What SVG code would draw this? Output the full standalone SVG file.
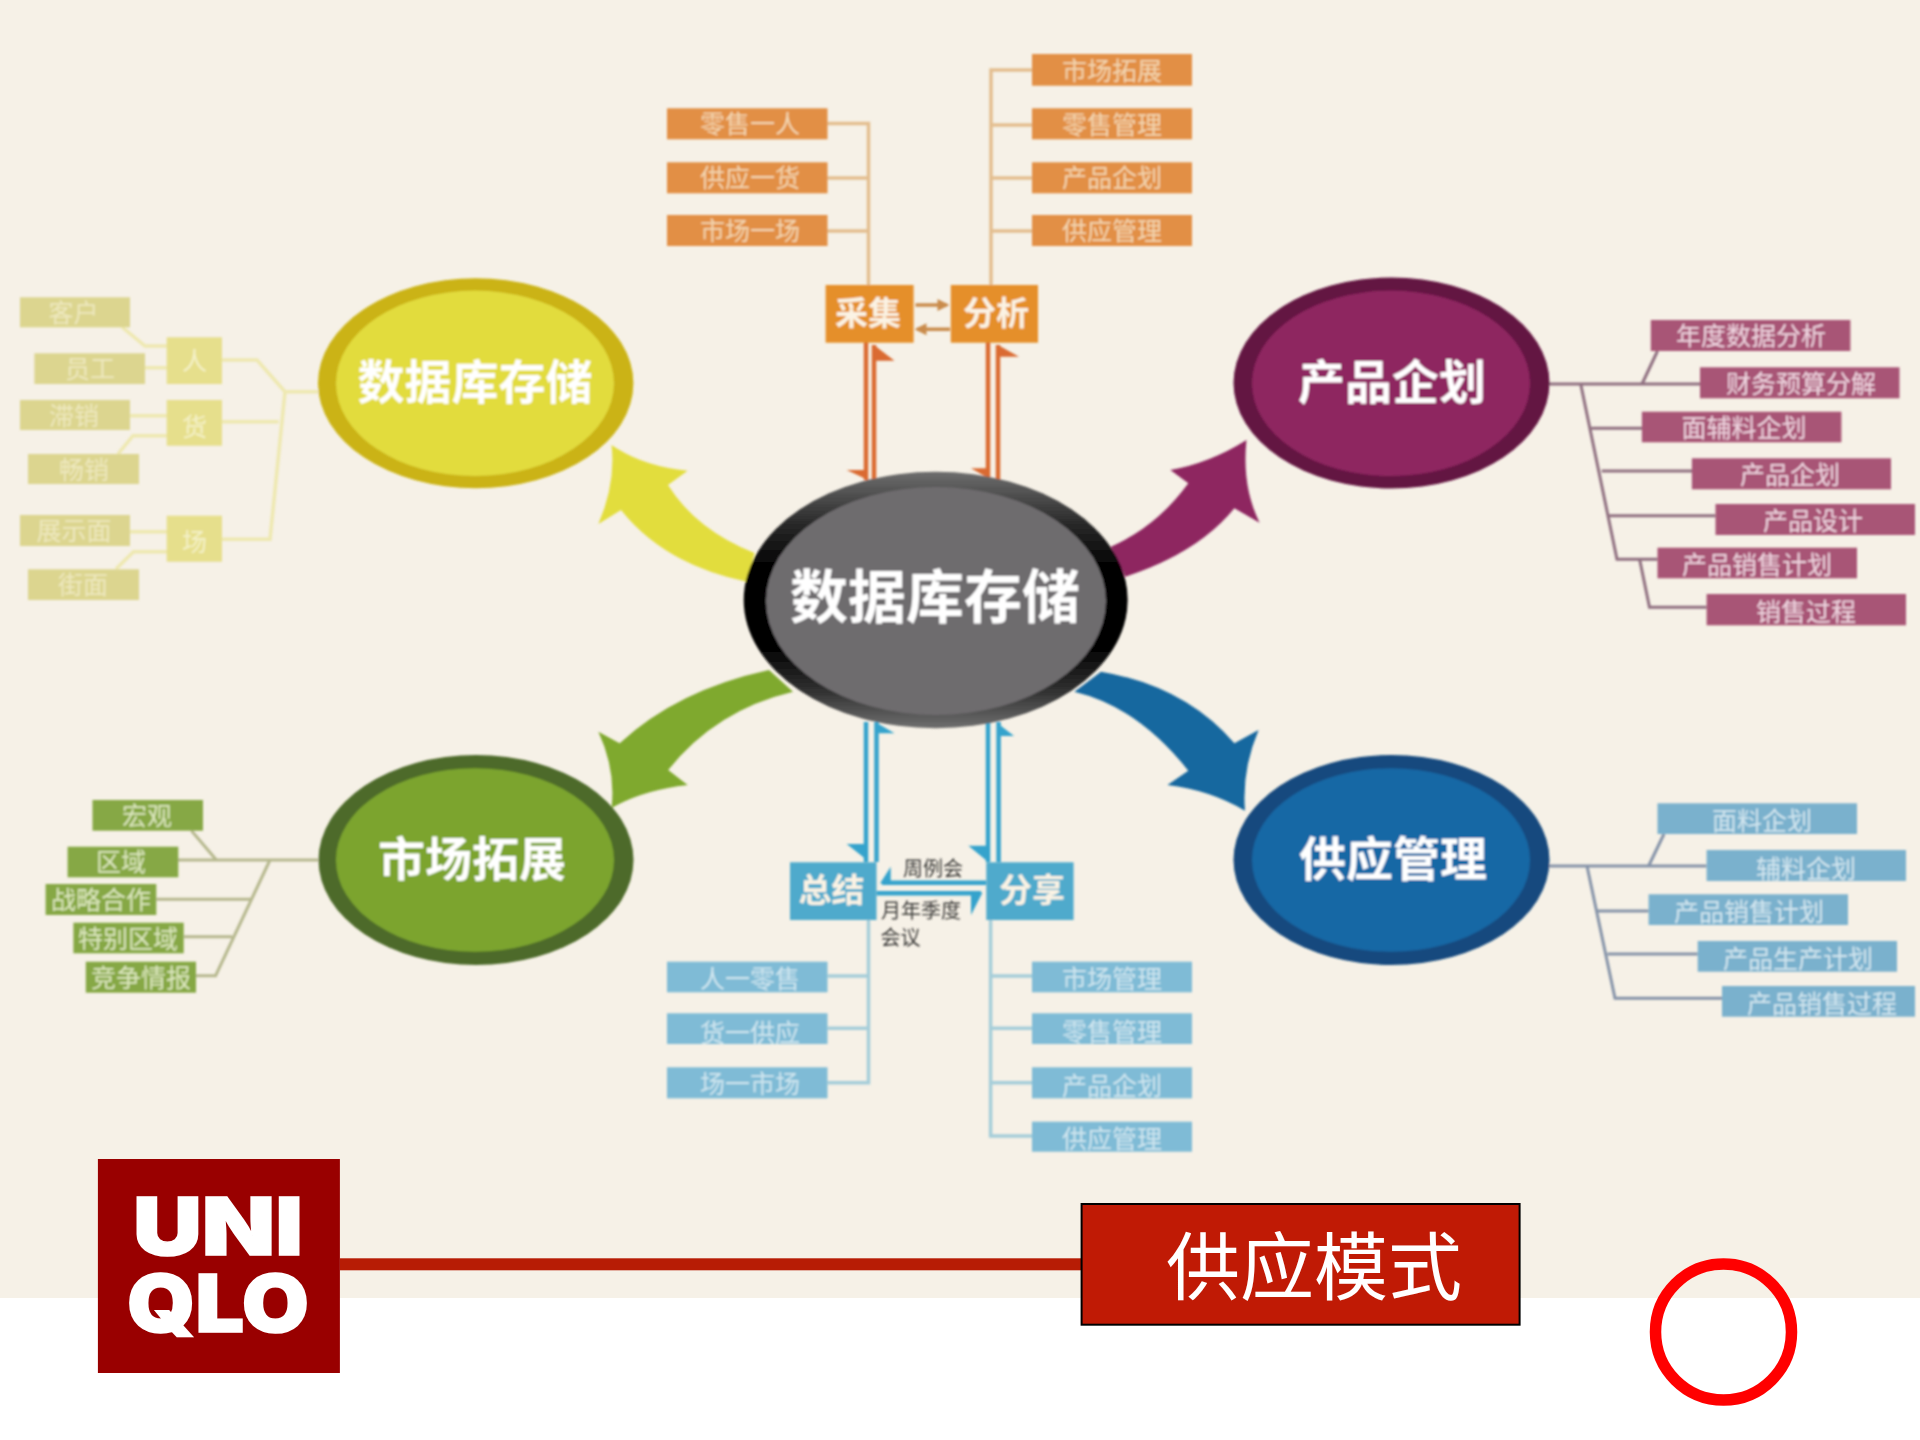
<svg xmlns="http://www.w3.org/2000/svg" width="1920" height="1440" viewBox="0 0 1920 1440">
<style>
text{font-family:"Noto Sans CJK SC","Noto Sans CJK JP",sans-serif;text-anchor:middle;dominant-baseline:central}
.title{font-size:47px;font-weight:700;fill:#fff;transform:translateY(-2.5px)}
.small{font-size:25px;transform:translateY(-1.5px)}
.hub{font-size:33px;font-weight:700;fill:#fbf3e4;transform:translateY(-3px)}
.note{font-size:20px;fill:#403f3d;transform:translateY(-2px)}
.o rect{fill:#E28F45}.o text{fill:#F3D6B0}
.y rect{fill:#DCD58F}.y text{fill:#EDE8BE}
.yh rect{fill:#E6DF8C}.yh text{fill:#F4F1C8}
.p rect{fill:#A85476}.p text{fill:#EFD5E0}
.g rect{fill:#86A845}.g text{fill:#DCE7BE}
.b rect{fill:#7FBBD6}.b text{fill:#CFE6EF}
.s rect{fill:#7AB1CD}.s text{fill:#D2E6EF}
.lo,.ly,.lp,.lg,.lb,.ls,.do,.db,.sm{fill:none}
.lo{stroke:#E3BE8F;stroke-width:3.5}
.ly{stroke:#EEE8B0;stroke-width:3.5}
.lp{stroke:#8F6F80;stroke-width:3}
.lg{stroke:#B6B88E;stroke-width:3}
.lb{stroke:#A5CDD9;stroke-width:3.5}
.ls{stroke:#8593A8;stroke-width:3}
.do{stroke:#DA6A30;stroke-width:4.5}
.db{stroke:#35A3CC;stroke-width:4.5}
.sm{stroke:#C98B4C;stroke-width:3.5}
.fo{fill:#DA6A30}.fb{fill:#35A3CC}
.logo{font-size:80px;font-weight:900;fill:#fff;stroke:#fff;stroke-width:1.5;font-family:Inter,"Liberation Sans",sans-serif;dominant-baseline:alphabetic}
</style>
<defs>
<filter id="soft" filterUnits="userSpaceOnUse" x="0" y="0" width="1920" height="1298"><feGaussianBlur stdDeviation="0.8"/></filter>
<linearGradient id="rim" x1="0" y1="0" x2="0" y2="1">
<stop offset="0" stop-color="#6e6e6e"/><stop offset="0.2" stop-color="#2a2a2a"/><stop offset="0.38" stop-color="#000"/><stop offset="0.68" stop-color="#000"/><stop offset="0.86" stop-color="#333"/><stop offset="1" stop-color="#707070"/>
</linearGradient>
<marker id="ah" viewBox="0 0 10 10" refX="8" refY="5" markerWidth="3.4" markerHeight="4.2" orient="auto"><path d="M0 0L10 5L0 10z" fill="#C98B4C"/></marker>
</defs>
<rect width="1920" height="1298" fill="#F6F1E7"/>
<g filter="url(#soft)">
<g id="connectors">
<path class="lo" d="M827 123.5H868.5V285M827 178H868.5M827 231H868.5"/>
<path class="lo" d="M1032 70H991V285M1032 125H991M1032 178H991M1032 231H991"/>
<path class="ly" d="M122 327L145 346H167M145 367.7H167M130 415.7H167M118 454L133 435.7H167M130 531.7H167M116 569L133.5 551.7H167"/>
<path class="ly" d="M222 360H257L285 391.7H318M222 421.7H278.6M285 391.7L270 539.3H222"/>
<path class="lp" d="M1549 384H1700M1657.5 351L1642 384M1580.7 384L1617 559.3H1657.5M1591.4 428.3H1642M1601.7 471H1692M1609.3 515.7H1715.5M1639.6 559.3L1649.5 607.3H1706.6"/>
<path class="lg" d="M178 860H318M191.5 830.7L216.4 860M269.5 861L215.6 975.7H196M156.3 899.3H250.8M183.7 936.7H232.2"/>
<path class="ls" d="M1549 866H1706.6M1664 834L1648.6 866M1587 866L1615 998.3H1722M1597 911H1648.6M1607.5 954H1697.7"/>
<path class="lb" d="M868.5 920V1082.7H827.5M868.5 976H827.5M868.5 1028.3H827.5"/>
<path class="lb" d="M990.6 920V1136H1032M990.6 976H1032M990.6 1028.3H1032M990.6 1082.7H1032"/>
<path class="do" d="M866 342V480M874 345V480M988 342V480M998 345V480"/>
<polygon class="fo" points="846.7,470 866,470 866,479"/>
<polygon class="fo" points="874,345 894.5,360.7 874,360.7"/>
<polygon class="fo" points="971,468.3 988,468.3 988,478"/>
<polygon class="fo" points="998,345 1019,356.7 998,356.7"/>
<path class="sm" d="M915.5 305H947" marker-end="url(#ah)"/>
<path class="sm" d="M950 329.3H917" marker-end="url(#ah)"/>
<path class="db" d="M866 722V862M876.5 722V862M988 722V862M998.6 722V862"/>
<polygon class="fb" points="876.5,722.7 894.5,733.3 876.5,733.3"/>
<polygon class="fb" points="846.7,844 866,844 866,859.3"/>
<polygon class="fb" points="998.6,724 1014,736 998.6,736"/>
<polygon class="fb" points="968.4,845.7 988,845.7 988,861.7"/>
<path class="db" d="M986 882.7H882M876.5 893.3H981"/>
<polygon class="fb" points="880,883.5 890.7,866.7 890.7,883.5"/>
<polygon class="fb" points="982.5,892.5 971,915 971,892.5"/>
<path id="arrow-yellow" fill="#E2DD3C" d="M611.5 445Q643 466.7 687.6 470.7L668 485Q696.3 530 754.5 553L747 581.7Q665 565 621 510L598.4 524Q616 483 611.5 445Z"/>
<path id="arrow-purple" fill="#8E2660" d="M1246.5 440Q1210 463 1170.4 470L1188.3 483.3Q1156.8 526.7 1110.8 546.7L1125.3 576.7Q1198 553 1234.4 508.3L1259.6 522.7Q1241.7 486.7 1246.5 440Z"/>
<path id="arrow-green" fill="#7FA92D" d="M611.5 808Q643 790 687.6 785L668.2 770Q715.7 710 793 691.7L769 670Q677 690 619.7 743.3L598.4 731.7Q616 770 611.5 808Z"/>
<path id="arrow-blue" fill="#17679F" d="M1245 810.7Q1210 790 1167.5 785L1188.3 770.7Q1137.5 706.7 1074.4 691.7L1101 671.7Q1185 686 1234.4 743.3L1258.6 730Q1241.7 770 1245 810.7Z"/>
</g>
<g id="node-center"><ellipse cx="935.7" cy="600" rx="192" ry="128.3" fill="url(#rim)"/><ellipse cx="936" cy="601" rx="170" ry="114" fill="#6E6C6E"/><text x="935" y="593" font-size="58" font-weight="700" fill="#fff">数据库存储</text></g>
<g id="node-storage"><ellipse cx="475.7" cy="383.3" rx="157.7" ry="105" fill="#CBB312"/><ellipse cx="475" cy="383.3" rx="139" ry="92.7" fill="#E2DC3C"/><text class="title" x="475" y="381">数据库存储</text></g>
<g id="node-product"><ellipse cx="1391.5" cy="383" rx="158" ry="105.5" fill="#641542"/><ellipse cx="1391" cy="383.3" rx="139" ry="92.7" fill="#8E2660"/><text class="title" x="1392" y="381">产品企划</text></g>
<g id="node-market"><ellipse cx="476" cy="860" rx="157.5" ry="105" fill="#4D6A2B"/><ellipse cx="475" cy="860" rx="139" ry="91.7" fill="#7BA42E"/><text class="title" x="472" y="858">市场拓展</text></g>
<g id="node-supply"><ellipse cx="1391.5" cy="860" rx="158" ry="105" fill="#14497E"/><ellipse cx="1391" cy="860" rx="139" ry="91.7" fill="#1868A5"/><text class="title" x="1393" y="858">供应管理</text></g>

<g id="hub-collect"><rect x="825.6" y="285" width="88" height="57.7" fill="#E58F2B"/><text class="hub" x="868" y="314">采集</text></g>
<g id="hub-analyse"><rect x="950.8" y="285" width="87.2" height="57.7" fill="#E58F2B"/><text class="hub" x="996" y="314">分析</text></g>
<g id="hub-summary"><rect x="790" y="862.3" width="86.5" height="57.7" fill="#4FAACC"/><text class="hub" x="831.5" y="891">总结</text></g>
<g id="hub-share"><rect x="986.3" y="862.3" width="87.3" height="57.7" fill="#4FAACC"/><text class="hub" x="1032" y="891">分享</text></g>
<g id="label-weekly"><text class="note" x="933" y="869">周例会</text></g>
<g id="label-monthly"><text class="note" x="921" y="911">月年季度</text><text class="note" x="900.5" y="938">会议</text></g>

<g class="o" id="n-o1"><rect x="667" y="108.3" width="160.5" height="31"/><text class="small" x="750" y="123.5">零售一人</text></g>
<g class="o" id="n-o2"><rect x="667" y="162.3" width="160.5" height="31"/><text class="small" x="750" y="177.5">供应一货</text></g>
<g class="o" id="n-o3"><rect x="667" y="215" width="160.5" height="31"/><text class="small" x="750" y="230">市场一场</text></g>
<g class="o" id="n-o4"><rect x="1032" y="54" width="160" height="31.7"/><text class="small" x="1112" y="70">市场拓展</text></g>
<g class="o" id="n-o5"><rect x="1032" y="108.3" width="160" height="31"/><text class="small" x="1112" y="124">零售管理</text></g>
<g class="o" id="n-o6"><rect x="1032" y="162.3" width="160" height="31"/><text class="small" x="1112" y="177.5">产品企划</text></g>
<g class="o" id="n-o7"><rect x="1032" y="215" width="160" height="31"/><text class="small" x="1112" y="230">供应管理</text></g>

<g class="y" id="n-y1"><rect x="20" y="297.3" width="110" height="30"/><text class="small" x="73.6" y="312">客户</text></g>
<g class="y" id="n-y2"><rect x="34.4" y="353.3" width="110.6" height="30.7"/><text class="small" x="90" y="368">员工</text></g>
<g class="y" id="n-y3"><rect x="20" y="400" width="110" height="30"/><text class="small" x="74" y="415">滞销</text></g>
<g class="y" id="n-y4"><rect x="28" y="454" width="111" height="30"/><text class="small" x="84" y="469">畅销</text></g>
<g class="y" id="n-y5"><rect x="20" y="515" width="110" height="31"/><text class="small" x="74" y="530">展示面</text></g>
<g class="y" id="n-y6"><rect x="28" y="569.3" width="111" height="30.7"/><text class="small" x="83" y="584">街面</text></g>
<g class="yh" id="n-yh1"><rect x="166.7" y="337.3" width="55.3" height="46.7"/><text class="small" x="194.5" y="360">人</text></g>
<g class="yh" id="n-yh2"><rect x="166.7" y="400" width="55.3" height="45.7"/><text class="small" x="194.5" y="426">货</text></g>
<g class="yh" id="n-yh3"><rect x="166.7" y="515.7" width="55.3" height="46"/><text class="small" x="194.5" y="541">场</text></g>

<g class="p" id="n-p1"><rect x="1650.8" y="320" width="199.6" height="31"/><text class="small" x="1751" y="335">年度数据分析</text></g>
<g class="p" id="n-p2"><rect x="1700" y="367.3" width="199.5" height="31"/><text class="small" x="1801" y="383">财务预算分解</text></g>
<g class="p" id="n-p3"><rect x="1641.9" y="411.7" width="199.5" height="30.6"/><text class="small" x="1744" y="427">面辅料企划</text></g>
<g class="p" id="n-p4"><rect x="1691.9" y="458.3" width="199.1" height="31"/><text class="small" x="1790" y="474">产品企划</text></g>
<g class="p" id="n-p5"><rect x="1715.5" y="504" width="199.5" height="31"/><text class="small" x="1813" y="520">产品设计</text></g>
<g class="p" id="n-p6"><rect x="1657.5" y="547.7" width="199.5" height="30.6"/><text class="small" x="1757" y="564">产品销售计划</text></g>
<g class="p" id="n-p7"><rect x="1706.6" y="594" width="199.4" height="31.3"/><text class="small" x="1806" y="611">销售过程</text></g>

<g class="g" id="n-g1"><rect x="92.5" y="800" width="110.5" height="30.7"/><text class="small" x="147" y="815">宏观</text></g>
<g class="g" id="n-g2"><rect x="67.6" y="846.7" width="110.7" height="30.6"/><text class="small" x="121" y="861">区域</text></g>
<g class="g" id="n-g3"><rect x="45.6" y="884" width="110.7" height="31"/><text class="small" x="101" y="899">战略合作</text></g>
<g class="g" id="n-g4"><rect x="73.4" y="922.7" width="110.3" height="30.6"/><text class="small" x="128" y="938">特别区域</text></g>
<g class="g" id="n-g5"><rect x="85.8" y="961.7" width="110.2" height="31"/><text class="small" x="141" y="977">竞争情报</text></g>

<g class="b" id="n-b1"><rect x="667" y="961.7" width="160.5" height="30.6"/><text class="small" x="750" y="978">人一零售</text></g>
<g class="b" id="n-b2"><rect x="667" y="1013.3" width="160.5" height="30.7"/><text class="small" x="750" y="1032">货一供应</text></g>
<g class="b" id="n-b3"><rect x="667" y="1067.3" width="160.5" height="31"/><text class="small" x="750" y="1083">场一市场</text></g>
<g class="b" id="n-b4"><rect x="1032" y="961.7" width="160" height="30.6"/><text class="small" x="1112" y="978">市场管理</text></g>
<g class="b" id="n-b5"><rect x="1032" y="1013.3" width="160" height="30.7"/><text class="small" x="1112" y="1031">零售管理</text></g>
<g class="b" id="n-b6"><rect x="1032" y="1067.3" width="160" height="31"/><text class="small" x="1112" y="1085">产品企划</text></g>
<g class="b" id="n-b7"><rect x="1032" y="1121.7" width="160" height="30"/><text class="small" x="1112" y="1138">供应管理</text></g>

<g class="s" id="n-s1"><rect x="1657.5" y="803.3" width="199.5" height="30.7"/><text class="small" x="1762" y="820">面料企划</text></g>
<g class="s" id="n-s2"><rect x="1706.6" y="850" width="199.4" height="31"/><text class="small" x="1806" y="868">辅料企划</text></g>
<g class="s" id="n-s3"><rect x="1648.6" y="894.3" width="199.4" height="30.7"/><text class="small" x="1749" y="911">产品销售计划</text></g>
<g class="s" id="n-s4"><rect x="1697.7" y="941" width="199.3" height="30.7"/><text class="small" x="1798" y="958">产品生产计划</text></g>
<g class="s" id="n-s5"><rect x="1722" y="986" width="193" height="30.7"/><text class="small" x="1822" y="1003">产品销售过程</text></g>
</g>

<g id="banner-line"><rect x="340" y="1258.3" width="741" height="12" fill="#B71C05"/></g>
<g id="logo"><rect x="97.9" y="1159" width="242" height="214" fill="#990000"/>
<text class="logo" x="218" y="1255" textLength="170" lengthAdjust="spacingAndGlyphs">UNI</text>
<text class="logo" x="218" y="1332" textLength="182" lengthAdjust="spacingAndGlyphs">QLO</text></g>
<g id="banner-box"><rect x="1081.6" y="1204" width="438" height="120.7" fill="#C01A05" stroke="#000" stroke-width="2"/><text x="1314" y="1261" font-size="74" font-weight="400" fill="#fff">供应模式</text></g>
<g id="ring"><circle cx="1723.5" cy="1332" r="68" fill="none" stroke="#FF0000" stroke-width="11.5"/></g>
</svg>
